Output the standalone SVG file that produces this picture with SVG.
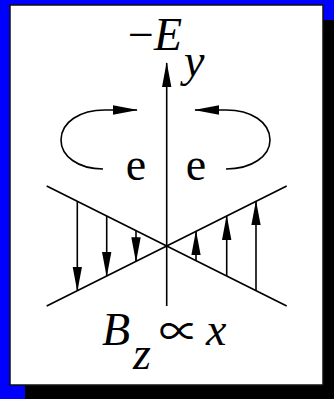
<svg xmlns="http://www.w3.org/2000/svg" width="334" height="399" viewBox="0 0 334 399">
<style>
.ln{stroke:#000;stroke-width:1.6;fill:none}
.ar{stroke:#000;stroke-width:1.6;fill:none;marker-end:url(#ah)}
.t{font-family:"Liberation Serif","Times New Roman",serif;font-size:46px;fill:#000}
.i{font-style:italic}
.s{font-family:"Noto Sans CJK JP","Liberation Serif",sans-serif;font-size:40px;font-weight:400;fill:#000}
</style>
<defs>
<marker id="ah" markerUnits="userSpaceOnUse" markerWidth="25" markerHeight="10" refX="24" refY="5" orient="auto" viewBox="0 0 25 10">
<path d="M0,0.3 L25,5 L0,9.7 z" fill="#000"/>
</marker>
</defs>
<rect x="0" y="0" width="334" height="399" fill="#0000ff"/>
<rect x="25" y="20" width="320" height="390" fill="#000"/>
<rect x="10" y="5" width="313" height="380" fill="#fff" stroke="#111" stroke-width="1.5"/>
<g id="connectors">
<line id="axis" class="ar" x1="166.7" y1="306" x2="166.7" y2="63"/>
<line id="line-a" class="ln" x1="46.7" y1="186" x2="286.7" y2="306"/>
<line id="line-b" class="ln" x1="46.7" y1="306" x2="286.7" y2="186"/>
<line class="ar" x1="77.3" y1="201.3" x2="77.3" y2="290.7"/>
<line class="ar" x1="106.7" y1="216" x2="106.7" y2="276"/>
<line class="ar" x1="136" y1="230.7" x2="136" y2="261.3"/>
<line class="ar" x1="196" y1="260.7" x2="196" y2="231.3"/>
<line class="ar" x1="226.7" y1="276" x2="226.7" y2="216"/>
<line class="ar" x1="256" y1="290.7" x2="256" y2="201.3"/>
<path id="loop-left" class="ar" d="M103,169 C78,169 61,156 61,140 C61,122 80,110 105,110 L137,110"/>
<path id="loop-right" class="ar" d="M226,169 C252,169 270,156 270,140 C270,122 251,110 226,110 L195,110"/>
</g>
<g id="label-ey">
<text class="t" x="128" y="50">−<tspan class="i">E</tspan></text>
<text class="t i" x="184" y="76">y</text>
</g>
<g id="electron-left"><text class="t" x="136" y="180" text-anchor="middle">e</text></g>
<g id="electron-right"><text class="t" x="196" y="180" text-anchor="middle">e</text></g>
<g id="label-bz">
<text class="t i" x="102" y="345">B</text>
<text class="t i" x="133" y="369">z</text>
<text class="s" x="159" y="346">∝</text>
<text class="t i" x="206" y="345">x</text>
</g>
</svg>
